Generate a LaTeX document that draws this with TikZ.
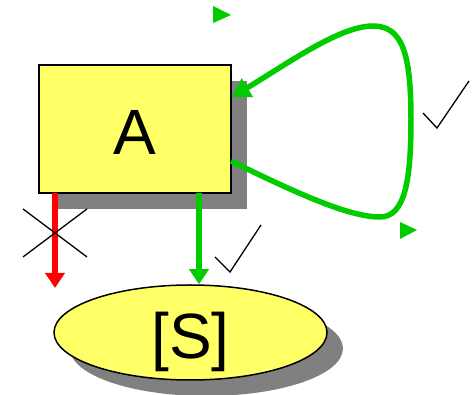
\documentclass[tikz,border=0pt]{standalone}
\usepackage{fontspec}
\setmainfont{Liberation Sans}
\usetikzlibrary{arrows.meta,shapes.geometric,shadows}
\definecolor{boxfill}{HTML}{FFFF66}
\definecolor{okgreen}{HTML}{00CC00}
\definecolor{shadowgray}{HTML}{808080}
\begin{document}
\begin{tikzpicture}[x=1pt,y=-1pt,
  hardshadow/.style={general shadow={fill=shadowgray, shadow xshift=16pt, shadow yshift=-16pt}},
  bigtext/.style={font=\fontsize{64}{64}\selectfont, text height=52pt, text depth=0pt, inner sep=0pt},
  statebox/.style={draw, line width=2pt, fill=boxfill, minimum width=192pt, minimum height=128pt, hardshadow, bigtext},
  stateoval/.style={ellipse, draw, line width=1.5pt, fill=boxfill, minimum width=273pt, minimum height=95pt, hardshadow, bigtext},
  flow/.style={line width=5.5pt, -{Triangle[width=19pt,length=15pt]}},
  tick/.style={line width=1.3pt, black},
  pointer/.style={fill=okgreen, draw=none}]
\useasboundingbox (0,0) rectangle (475,395);

\node[stateoval] (S) at (190.5,332.5) {[S]};
\node[statebox] (A) at (135,129) {A};

% transition into the oval
\coordinate (gstart) at (199,193);
\draw[flow, okgreen] (gstart) -- (gstart |- S.north);

% forbidden transition
\coordinate (rstart) at (55,193);
\coordinate (rend) at (55,288);
\draw[flow, red] (rstart) -- (rend);
\draw[tick] (23,209) -- (87,257);
\draw[tick] (23,257) -- (87,209);

% check beside the downward arrow
\draw[tick, line join=miter] (215,257) -- (230,272) -- (261,225);

% self loop on A
\coordinate (loopout) at (231,161);
\coordinate (loopin) at (232,97);
\draw[line width=5.5pt, okgreen, -{Triangle[width=21pt,length=18pt]}]
  (loopout) .. controls (300,195) and (350,217) .. (380,217)
  .. controls (405,217) and (411,180) .. (411,120)
  .. controls (411,55) and (403,26) .. (373,26)
  .. controls (340,26) and (290,62) .. (loopin);

% check beside the loop
\draw[tick, line join=miter] (423,113) -- (437,128) -- (469,81);

% small pointers
\fill[pointer] (213,6) -- (231,15) -- (213,23) -- cycle;
\fill[pointer] (400,222) -- (417,230) -- (400,239) -- cycle;
\end{tikzpicture}
\end{document}
